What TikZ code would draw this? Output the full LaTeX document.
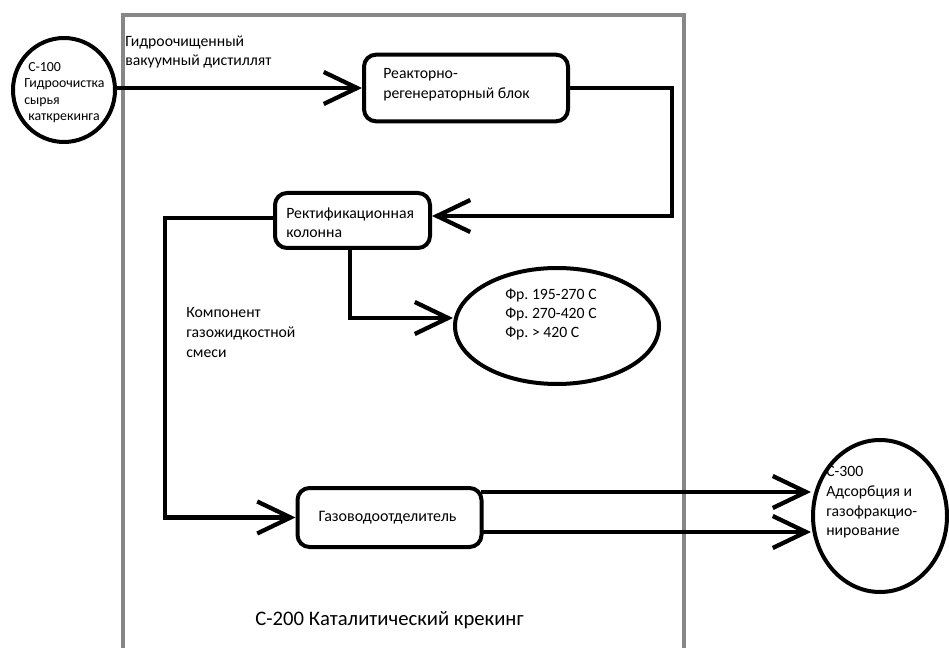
\documentclass[tikz,border=0pt]{standalone}
\usepackage{fontspec}
\setmainfont{Carlito}
\frenchspacing
\usetikzlibrary{arrows.meta,shapes.geometric,calc}
\definecolor{framegray}{HTML}{878787}
\tikzset{
  box/.style={draw, line width=3pt, rounded corners=9pt, inner sep=0pt},
  oval/.style={draw, ellipse, line width=3pt, inner sep=0pt},
  arr/.style={line width=3.2pt, -{Straight Barb[length=25pt,width=24pt]}},
  txt/.style={align=left, anchor=west, inner sep=0pt, font=\fontsize{11.8}{14.25}\selectfont},
}
\begin{document}
\begin{tikzpicture}[x=0.75pt,y=-0.75pt]
\useasboundingbox (0,0) rectangle (949,648);
% frame
\draw[framegray, line width=2.4pt] (123,660) -- (123,15) -- (684,15) -- (684,660);
% nodes
\node[oval, minimum width=76.5pt, minimum height=78pt] (c100) at (64,90) {};
\node[box, minimum width=153pt, minimum height=50pt] (reactor) at (466,88) {};
\node[box, minimum width=116.25pt, minimum height=41.25pt] (rect) at (352.5,220.5) {};
\node[oval, minimum width=153pt, minimum height=87pt] (fr) at (557,326) {};
\node[box, minimum width=138pt, minimum height=44.25pt] (gaz) at (389.5,517.5) {};
\node[oval, minimum width=100.5pt, minimum height=114pt] (c300) at (880,516) {};
% texts
\node[txt, font=\fontsize{10.4}{12.4}\selectfont] (c100t) at (24,92.5) {\hspace{3pt}С-100\\Гидроочистка\\сырья\\\hspace{3pt}каткрекинга};
\node[txt] (feedt) at (125,51.5) {Гидроочищенный\\вакуумный дистиллят};
\node[txt, font=\fontsize{11.8}{15}\selectfont] (reactort) at (383,85) {Реакторно-\\регенераторный блок};
\node[txt] (rectt) at (286,222.5) {Ректификационная\\колонна};
\node[txt, font=\fontsize{11.8}{13.9}\selectfont] (frt) at (505,314.5) {Фр. 195-270 С\\Фр. 270-420 С\\Фр. > 420 С};
\node[txt, font=\fontsize{11.8}{15}\selectfont] (kompt) at (186,333) {Компонент\\газожидкостной\\смеси};
\node[inner sep=0pt, font=\fontsize{12}{14}\selectfont] (gazt) at (387.5,517.5) {Газоводоотделитель};
\node[txt, font=\fontsize{11.8}{14.7}\selectfont] (c300t) at (826,502.5) {С-300\\Адсорбция и\\газофракцио-\\нирование};
\node[inner sep=0pt, font=\fontsize{15.5}{18}\selectfont] (title) at (389.5,620) {С-200 Каталитический крекинг};
% connectors
\coordinate (r1) at (672,216);
\coordinate (l1) at (165,218);
\coordinate (d1) at (350,318);
\coordinate (g1) at (481,492);
\coordinate (g2) at (481,532);
\draw[arr] (c100.east |- reactor.west) -- (reactor.west);
\draw[arr] (reactor.east) -| (r1) -- (r1 -| rect.east);
\draw[arr] (rect.west |- l1) -- (l1) |- (gaz.west);
\draw[arr] (rect.south -| d1) -- (d1) -- (d1 -| fr.west);
\draw[arr] (g1) -- (g1 -| c300.west);
\draw[arr] (g2) -- (g2 -| c300.west);
\end{tikzpicture}
\end{document}
